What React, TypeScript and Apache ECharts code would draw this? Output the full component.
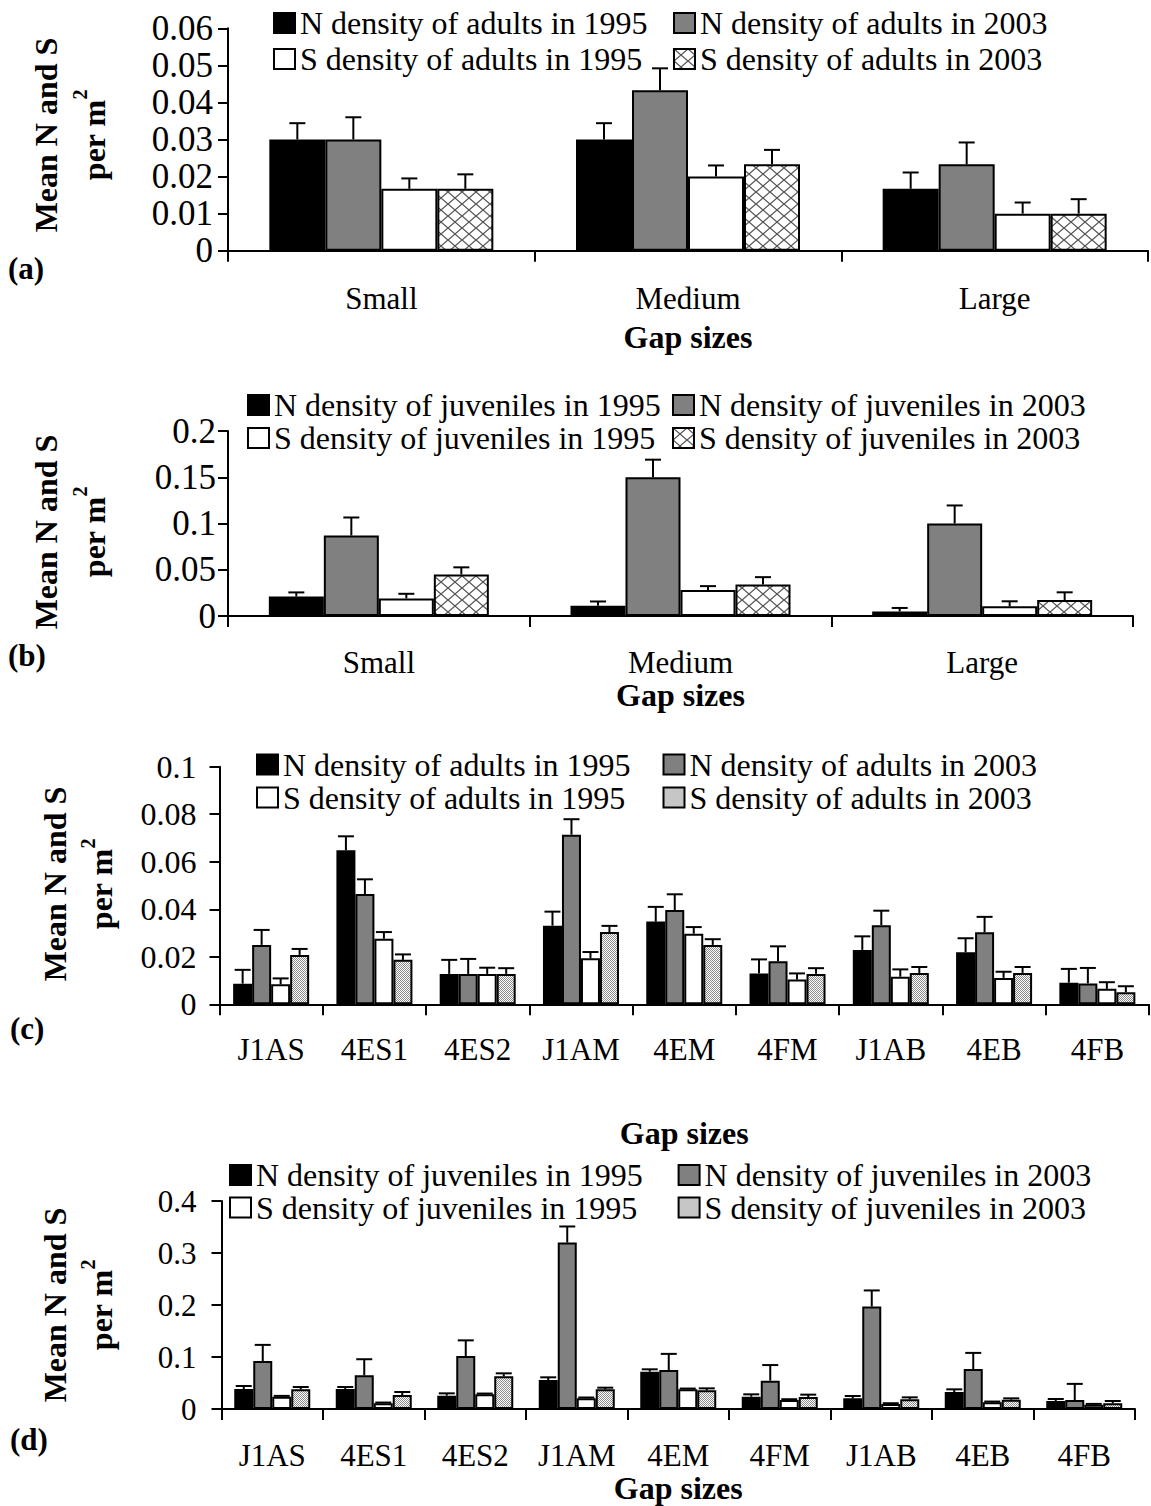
import React, { useEffect, useRef } from "react";
import * as echarts from "echarts";

// ---- categories ----
const GAP_SIZES = ["Small", "Medium", "Large"];
const SITES = ["J1AS", "4ES1", "4ES2", "J1AM", "4EM", "4FM", "J1AB", "4EB", "4FB"];

const ADULT_SERIES = [
  "N density of adults in 1995",
  "N density of adults in 2003",
  "S density of adults in 1995",
  "S density of adults in 2003",
];
const JUVENILE_SERIES = [
  "N density of juveniles in 1995",
  "N density of juveniles in 2003",
  "S density of juveniles in 1995",
  "S density of juveniles in 2003",
];

// ---- (a) adults by gap size ----
const A_N_1995 = [0.03, 0.03, 0.0167];
const A_N_2003 = [0.03, 0.0433, 0.0233];
const A_S_1995 = [0.0167, 0.02, 0.01];
const A_S_2003 = [0.0167, 0.0233, 0.01];
const A_N_1995_SE = [0.0044, 0.0044, 0.0044];
const A_N_2003_SE = [0.006, 0.0059, 0.0059];
const A_S_1995_SE = [0.0028, 0.003, 0.003];
const A_S_2003_SE = [0.0039, 0.0039, 0.0039];

// ---- (b) juveniles by gap size ----
const B_N_1995 = [0.021, 0.011, 0.005];
const B_N_2003 = [0.087, 0.15, 0.1];
const B_S_1995 = [0.019, 0.028, 0.0105];
const B_S_2003 = [0.045, 0.034, 0.0173];
const B_N_1995_SE = [0.0045, 0.0047, 0.0037];
const B_N_2003_SE = [0.0195, 0.019, 0.0195];
const B_S_1995_SE = [0.005, 0.0043, 0.0054];
const B_S_2003_SE = [0.0076, 0.008, 0.0083];

// ---- (c) adults by site ----
const C_N_1995 = [0.0087, 0.0648, 0.0128, 0.0331, 0.0348, 0.013, 0.0229, 0.0219, 0.0091];
const C_N_2003 = [0.025, 0.0464, 0.0128, 0.0714, 0.0397, 0.0181, 0.0333, 0.0303, 0.0088];
const C_S_1995 = [0.0084, 0.0276, 0.0128, 0.0194, 0.0297, 0.0104, 0.0116, 0.0111, 0.0065];
const C_S_2003 = [0.0208, 0.0187, 0.0128, 0.0304, 0.025, 0.0128, 0.0132, 0.0132, 0.0051];
const C_N_1995_SE = [0.0058, 0.0059, 0.0059, 0.0059, 0.0062, 0.0059, 0.0057, 0.0059, 0.0058];
const C_N_2003_SE = [0.0063, 0.0062, 0.0063, 0.0065, 0.0066, 0.0063, 0.0061, 0.0065, 0.0065];
const C_S_1995_SE = [0.0025, 0.0028, 0.0026, 0.0026, 0.0028, 0.0026, 0.0031, 0.0026, 0.0028];
const C_S_2003_SE = [0.0025, 0.0023, 0.0024, 0.0026, 0.0024, 0.0024, 0.0025, 0.0025, 0.0025];

// ---- (d) juveniles by site ----
const D_N_1995 = [0.0385, 0.0385, 0.0256, 0.0558, 0.0718, 0.0237, 0.0205, 0.0327, 0.0154];
const D_N_2003 = [0.0923, 0.0647, 0.102, 0.32, 0.075, 0.0545, 0.197, 0.0769, 0.0173];
const D_S_1995 = [0.0237, 0.0109, 0.0282, 0.0206, 0.0378, 0.0173, 0.0096, 0.0128, 0.0083];
const D_S_2003 = [0.0378, 0.0269, 0.0628, 0.0379, 0.0359, 0.0231, 0.0186, 0.0179, 0.0109];
const D_N_1995_SE = [0.0057, 0.0038, 0.0045, 0.0051, 0.0045, 0.0045, 0.0045, 0.0051, 0.0038];
const D_N_2003_SE = [0.031, 0.031, 0.03, 0.031, 0.031, 0.03, 0.031, 0.031, 0.031];
const D_S_1995_SE = [0.0015, 0.0015, 0.0015, 0.0015, 0.0015, 0.0015, 0.0015, 0.0015, 0.0015];
const D_S_2003_SE = [0.0045, 0.0058, 0.0058, 0.0031, 0.0038, 0.0045, 0.0038, 0.0026, 0.0045];

// ---- value axis ranges ----
const Y_MAX = [0.06, 0.2, 0.1, 0.4];
const Y_STEP = [0.01, 0.05, 0.02, 0.1];

const PANEL_LETTERS = ["(a)", "(b)", "(c)", "(d)"];
const X_TITLE = "Gap sizes";

const FONT = "'Liberation Serif', 'Times New Roman', Times, serif";

// page placement of each panel
const LAYOUT = [
  {
    grid: { left: 228, top: 28.3, width: 920, height: 222.4 },
    barWidth: 56, tickFont: 35, tickMargin: 15, catMargin: 32, nameGap: 70,
    legendTop: 7, legendCols: [273, 673], legendLine: 32, legendGap: 4,
    title: { x: 70, y: 135, lh: 48 }, letter: { x: 8, y: 268 }, pattern: "hatch",
  },
  {
    grid: { left: 228, top: 431, width: 905, height: 185 },
    barWidth: 55, tickFont: 35, tickMargin: 12, catMargin: 31, nameGap: 57,
    legendTop: 389, legendCols: [247, 672], legendLine: 32, legendGap: 1,
    title: { x: 70, y: 532, lh: 48 }, letter: { x: 8, y: 655 }, pattern: "hatch",
  },
  {
    grid: { left: 219.5, top: 766.7, width: 929.5, height: 237.6 },
    barWidth: 19, tickFont: 32, tickMargin: 23, catMargin: 29.5, nameGap: 113,
    legendTop: 748.5, legendCols: [256, 662.5], legendLine: 32, legendGap: 1,
    title: { x: 78, y: 884, lh: 46 }, letter: { x: 10, y: 1028 }, pattern: "dots",
  },
  {
    grid: { left: 221.5, top: 1201, width: 913.5, height: 208 },
    barWidth: 19, tickFont: 31, tickMargin: 25, catMargin: 31, nameGap: 57,
    legendTop: 1159, legendCols: [229, 677.6], legendLine: 32, legendGap: 0.5,
    title: { x: 78, y: 1305, lh: 46 }, letter: { x: 10, y: 1439 }, pattern: "dots",
  },
];

function makeHatch() {
  const w = 14, h = 12;
  const c = document.createElement("canvas");
  c.width = w;
  c.height = h;
  const g = c.getContext("2d")!;
  g.fillStyle = "#ffffff";
  g.fillRect(0, 0, w, h);
  g.strokeStyle = "#555555";
  g.lineWidth = 1.3;
  g.beginPath();
  g.moveTo(0, 0);
  g.lineTo(w, h);
  g.moveTo(w, 0);
  g.lineTo(0, h);
  g.stroke();
  return { image: c, repeat: "repeat", imageWidth: w, imageHeight: h };
}

function makeDots() {
  const c = document.createElement("canvas");
  c.width = 2;
  c.height = 2;
  const g = c.getContext("2d")!;
  g.fillStyle = "#ffffff";
  g.fillRect(0, 0, 2, 2);
  g.fillStyle = "#8c8c8c";
  g.fillRect(0, 0, 1, 1);
  g.fillRect(1, 1, 1, 1);
  return { image: c, repeat: "repeat", imageWidth: 2, imageHeight: 2 };
}

const fmt = (v: number) => (v === 0 ? "0" : String(parseFloat(v.toFixed(4))));

export default function App() {
  const ref = useRef<HTMLDivElement>(null);

  useEffect(() => {
    document.body.style.margin = "0";
    if (!ref.current) return;
    const chart = echarts.init(ref.current, null, { renderer: "svg" });

    const hatch = makeHatch();
    const dots = makeDots();

    const panels = [
      {
        cats: GAP_SIZES, names: ADULT_SERIES,
        values: [A_N_1995, A_N_2003, A_S_1995, A_S_2003],
        errors: [A_N_1995_SE, A_N_2003_SE, A_S_1995_SE, A_S_2003_SE],
      },
      {
        cats: GAP_SIZES, names: JUVENILE_SERIES,
        values: [B_N_1995, B_N_2003, B_S_1995, B_S_2003],
        errors: [B_N_1995_SE, B_N_2003_SE, B_S_1995_SE, B_S_2003_SE],
      },
      {
        cats: SITES, names: ADULT_SERIES,
        values: [C_N_1995, C_N_2003, C_S_1995, C_S_2003],
        errors: [C_N_1995_SE, C_N_2003_SE, C_S_1995_SE, C_S_2003_SE],
      },
      {
        cats: SITES, names: JUVENILE_SERIES,
        values: [D_N_1995, D_N_2003, D_S_1995, D_S_2003],
        errors: [D_N_1995_SE, D_N_2003_SE, D_S_1995_SE, D_S_2003_SE],
      },
    ];

    const grid: any[] = [];
    const xAxis: any[] = [];
    const yAxis: any[] = [];
    const series: any[] = [];
    const legend: any[] = [];
    const graphic: any[] = [];

    panels.forEach((p, i) => {
      const L = LAYOUT[i];
      const fills = ["#000000", "#808080", "#ffffff", L.pattern === "hatch" ? hatch : dots];

      grid.push({ ...L.grid, containLabel: false });

      xAxis.push({
        type: "category",
        gridIndex: i,
        data: p.cats,
        axisLine: { show: true, lineStyle: { color: "#000", width: 2 } },
        axisTick: { show: true, length: 11, interval: 0, lineStyle: { color: "#000", width: 2 } },
        axisLabel: {
          interval: 0, color: "#000", fontSize: 31, fontFamily: FONT, margin: L.catMargin,
        },
        name: X_TITLE,
        nameLocation: "middle",
        nameGap: L.nameGap,
        nameTextStyle: { color: "#000", fontSize: 32, fontWeight: "bold", fontFamily: FONT },
      });

      yAxis.push({
        type: "value",
        gridIndex: i,
        min: 0,
        max: Y_MAX[i],
        interval: Y_STEP[i],
        axisLine: { show: true, lineStyle: { color: "#000", width: 2 } },
        axisTick: { show: true, length: 10, lineStyle: { color: "#000", width: 2 } },
        splitLine: { show: false },
        axisLabel: {
          color: "#000", fontSize: L.tickFont, fontFamily: FONT, margin: L.tickMargin, formatter: fmt,
        },
      });

      p.names.forEach((name, s) => {
        series.push({
          type: "bar",
          name,
          xAxisIndex: i,
          yAxisIndex: i,
          data: p.values[s],
          barWidth: L.barWidth,
          barGap: "0%",
          itemStyle: { color: fills[s], borderColor: "#000", borderWidth: 2 },
          z: 2,
        });
      });

      // error bars: stem from the bar top up to mean + SE, with a cap
      const rows: number[][] = [];
      p.values.forEach((vals, s) =>
        vals.forEach((v, c) => rows.push([c, s, v, v + p.errors[s][c]]))
      );
      const bw = L.barWidth;
      series.push({
        type: "custom",
        xAxisIndex: i,
        yAxisIndex: i,
        silent: true,
        z: 5,
        data: rows,
        encode: { x: 0, y: [2, 3] },
        renderItem: (_params: any, api: any) => {
          const c = api.value(0);
          const s = api.value(1);
          const base = api.coord([c, api.value(2)]);
          const top = api.coord([c, api.value(3)]);
          const x = base[0] + (s - 1.5) * bw;
          return {
            type: "group",
            children: [
              {
                type: "line",
                shape: { x1: x, y1: base[1], x2: x, y2: top[1] },
                style: { stroke: "#000", lineWidth: 2 },
              },
              {
                type: "line",
                shape: { x1: x - 8, y1: top[1], x2: x + 8, y2: top[1] },
                style: { stroke: "#000", lineWidth: 2 },
              },
            ],
          };
        },
      });

      // legend: two columns of two entries each
      [[0, 2], [1, 3]].forEach((col, k) => {
        legend.push({
          orient: "vertical",
          left: L.legendCols[k],
          top: L.legendTop,
          itemWidth: 21,
          itemHeight: 20,
          itemGap: L.legendGap,
          selectedMode: false,
          icon: "rect",
          padding: 0,
          textStyle: {
            color: "#000", fontSize: 32, fontFamily: FONT, lineHeight: L.legendLine,
          },
          data: col.map((s) => ({
            name: p.names[s],
            itemStyle: { color: fills[s], borderColor: "#000", borderWidth: 2 },
          })),
        });
      });

      // y-axis title, two lines with a superscript
      graphic.push({
        type: "text",
        x: L.title.x,
        y: L.title.y,
        rotation: Math.PI / 2,
        style: {
          text: "{m|Mean N and S}\n{m|per m}{s|2}",
          align: "center",
          verticalAlign: "middle",
          fill: "#000",
          rich: {
            m: { fontSize: 32, fontWeight: "bold", fontFamily: FONT, lineHeight: L.title.lh, fill: "#000" },
            s: { fontSize: 20, fontWeight: "bold", fontFamily: FONT, lineHeight: 20, verticalAlign: "top", fill: "#000" },
          },
        },
      });

      graphic.push({
        type: "text",
        x: L.letter.x,
        y: L.letter.y,
        style: {
          text: PANEL_LETTERS[i],
          fontSize: 31,
          fontWeight: "bold",
          fontFamily: FONT,
          fill: "#000",
          align: "left",
          verticalAlign: "middle",
        },
      });
    });

    chart.setOption({
      animation: false,
      backgroundColor: "#ffffff",
      textStyle: { fontFamily: FONT },
      grid,
      xAxis,
      yAxis,
      series,
      legend,
      graphic,
    });

    return () => chart.dispose();
  }, []);

  return <div ref={ref} style={{ width: 1151, height: 1506 }} />;
}
